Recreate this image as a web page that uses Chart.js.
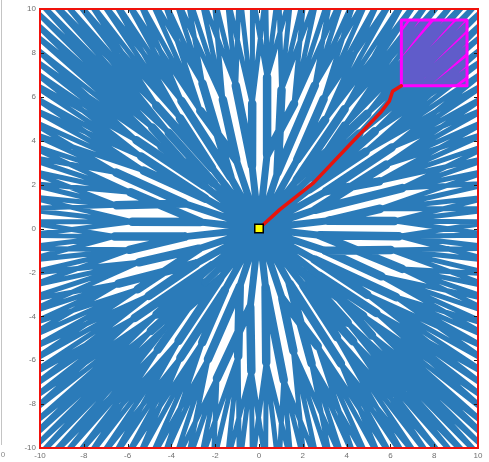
<!DOCTYPE html>
<html>
<head>
<meta charset="utf-8">
<script src="https://cdn.jsdelivr.net/npm/chart.js@4"></script>
<style>
  html, body { margin: 0; padding: 0; background: #ffffff; }
  #wrap { width: 489px; height: 462px; }
</style>
</head>
<body>
<div id="wrap"><canvas id="c" width="489" height="462"></canvas></div>
<script>
// ---- tree data (workspace coordinates) ----
const startPoint = [0, 0];

// first-level nodes grown from the start point
const trunkX = [3.18, 2.56, 3.06, 2.29, 2.33, 1.72, 1.75, 0.85, 0.37, -0.32, -1.04, -1.31,
                -2.15, -2.05, -2.52, -2.45, -3.41, -2.68, -3.38, -2.75, -2.88, -2.13, -2.47, -1.78,
                -1.56, -0.88, -0.40, 0.30, 1.07, 1.41, 2.03, 1.91, 2.76, 2.53, 3.03, 2.78];
const trunkY = [0.35, 0.85, 1.70, 1.78, 2.33, 2.21, 3.15, 2.56, 3.38, 2.88, 3.13, 2.36,
                2.76, 2.05, 1.96, 1.36, 1.14, 0.30, -0.37, -0.92, -1.60, -1.66, -2.47, -2.29,
                -2.80, -2.65, -3.58, -2.68, -3.22, -2.53, -2.60, -1.91, -2.15, -1.41, -1.01, -0.31];

// second-level nodes and the first-level node each one hangs from
const branchX = [6.19, 5.53, 6.54, 5.49, 5.81, 6.06, 4.87, 5.29, 4.58, 4.95, 3.91, 3.91,
                 3.02, 2.95, 2.55, 1.60, 1.03, 0.37, -0.31, -1.06, -1.65, -2.58, -2.68, -3.54,
                 -3.61, -4.69, -4.12, -4.87, -4.45, -5.60, -5.38, -5.27, -6.52, -5.87, -6.51, -5.79,
                 -6.59, -5.92, -5.48, -6.42, -5.54, -5.04, -5.68, -4.68, -4.94, -4.12, -4.62, -3.67,
                 -3.59, -2.59, -2.33, -1.92, -0.95, -0.35, 0.33, 1.13, 1.57, 2.40, 2.68, 3.74,
                 3.56, 4.30, 4.05, 5.16, 4.76, 5.36, 4.95, 6.26, 5.59, 6.54, 6.02, 6.39];
const branchY = [0.34, 0.90, 1.84, 2.15, 2.91, 3.69, 3.50, 4.43, 4.33, 5.23, 4.68, 5.44,
                 4.95, 5.90, 6.52, 5.68, 6.32, 6.89, 5.69, 6.51, 5.87, 6.61, 5.36, 5.81,
                 5.03, 5.60, 4.36, 4.60, 3.72, 4.02, 3.28, 2.64, 2.55, 1.65, 1.06, 0.31,
                 -0.36, -0.97, -1.54, -2.51, -2.77, -3.07, -4.08, -3.92, -4.67, -4.36, -5.52, -5.12,
                 -5.89, -5.19, -5.96, -6.83, -5.82, -6.49, -6.09, -6.91, -5.58, -6.14, -5.36, -6.15,
                 -4.95, -5.14, -4.29, -4.88, -3.98, -3.85, -3.02, -3.13, -2.18, -1.84, -0.98, -0.35];
const branchParent = [0, 0, 1, 2, 1, 2, 3, 3, 4, 5, 4, 5, 6, 6, 7, 8, 7, 8,
                      9, 9, 10, 11, 10, 11, 12, 12, 13, 14, 13, 14, 15, 15, 16, 17, 16, 17,
                      18, 18, 19, 20, 19, 20, 21, 21, 22, 23, 22, 23, 24, 24, 25, 26, 25, 26,
                      27, 27, 28, 29, 28, 29, 30, 30, 31, 32, 31, 32, 33, 33, 34, 35, 34, 35];

// outermost tips, listed per second-level node (they run past the workspace edge)
const twigTips = [
  [[11, -0.35], [11, 0.3], [11, 0.9], [11, 1.55]],   [[11, 0.9], [11, 1.5], [11, 2.15], [11, 2.8]],
  [[11, 2.1], [11, 2.75], [11, 3.35], [11, 4.0]],    [[11, 3.35], [11, 4.0], [11, 4.6], [11, 5.2]],
  [[11, 4.55], [11, 5.2], [11, 5.8], [11, 6.45]],    [[11, 5.75], [11, 6.4], [11, 7.0], [11, 7.7]],
  [[11, 7.0], [11, 7.65], [11, 8.25], [11, 8.9]],    [[11, 8.2], [11, 8.85], [11, 9.5], [11, 10.1]],
  [[11, 9.45], [11, 10.1], [11, 10.7], [10.65, 11]], [[11, 10.65], [10.7, 11], [10.1, 11], [9.45, 11]],
  [[10.1, 11], [9.5, 11], [8.85, 11], [8.2, 11]],    [[8.9, 11], [8.25, 11], [7.65, 11], [7.0, 11]],
  [[7.7, 11], [7.0, 11], [6.4, 11], [5.75, 11]],     [[6.45, 11], [5.8, 11], [5.2, 11], [4.55, 11]],
  [[5.2, 11], [4.6, 11], [4.0, 11], [3.35, 11]],     [[4.0, 11], [3.35, 11], [2.75, 11], [2.1, 11]],
  [[2.8, 11], [2.15, 11], [1.5, 11], [0.9, 11]],     [[1.55, 11], [0.9, 11], [0.3, 11], [-0.35, 11]],
  [[0.35, 11], [-0.3, 11], [-0.9, 11], [-1.55, 11]], [[-0.9, 11], [-1.5, 11], [-2.15, 11], [-2.8, 11]],
  [[-2.1, 11], [-2.75, 11], [-3.35, 11], [-4.0, 11]], [[-3.35, 11], [-4.0, 11], [-4.6, 11], [-5.2, 11]],
  [[-4.55, 11], [-5.2, 11], [-5.8, 11], [-6.45, 11]], [[-5.75, 11], [-6.4, 11], [-7.0, 11], [-7.7, 11]],
  [[-7.0, 11], [-7.65, 11], [-8.25, 11], [-8.9, 11]], [[-8.2, 11], [-8.85, 11], [-9.5, 11], [-10.1, 11]],
  [[-9.45, 11], [-10.1, 11], [-10.7, 11], [-11, 10.65]], [[-10.65, 11], [-11, 10.7], [-11, 10.1], [-11, 9.45]],
  [[-11, 10.1], [-11, 9.5], [-11, 8.85], [-11, 8.2]], [[-11, 8.9], [-11, 8.25], [-11, 7.65], [-11, 7.0]],
  [[-11, 7.7], [-11, 7.0], [-11, 6.4], [-11, 5.75]],  [[-11, 6.45], [-11, 5.8], [-11, 5.2], [-11, 4.55]],
  [[-11, 5.2], [-11, 4.6], [-11, 4.0], [-11, 3.35]],  [[-11, 4.0], [-11, 3.35], [-11, 2.75], [-11, 2.1]],
  [[-11, 2.8], [-11, 2.15], [-11, 1.5], [-11, 0.9]],  [[-11, 1.55], [-11, 0.9], [-11, 0.3], [-11, -0.35]],
  [[-11, 0.35], [-11, -0.3], [-11, -0.9], [-11, -1.55]], [[-11, -0.9], [-11, -1.5], [-11, -2.15], [-11, -2.8]],
  [[-11, -2.1], [-11, -2.75], [-11, -3.35], [-11, -4.0]], [[-11, -3.35], [-11, -4.0], [-11, -4.6], [-11, -5.2]],
  [[-11, -4.55], [-11, -5.2], [-11, -5.8], [-11, -6.45]], [[-11, -5.75], [-11, -6.4], [-11, -7.0], [-11, -7.7]],
  [[-11, -7.0], [-11, -7.65], [-11, -8.25], [-11, -8.9]], [[-11, -8.2], [-11, -8.85], [-11, -9.5], [-11, -10.1]],
  [[-11, -9.45], [-11, -10.1], [-11, -10.7], [-10.65, -11]], [[-11, -10.65], [-10.7, -11], [-10.1, -11], [-9.45, -11]],
  [[-10.1, -11], [-9.5, -11], [-8.85, -11], [-8.2, -11]], [[-8.9, -11], [-8.25, -11], [-7.65, -11], [-7.0, -11]],
  [[-7.7, -11], [-7.0, -11], [-6.4, -11], [-5.75, -11]], [[-6.45, -11], [-5.8, -11], [-5.2, -11], [-4.55, -11]],
  [[-5.2, -11], [-4.6, -11], [-4.0, -11], [-3.35, -11]], [[-4.0, -11], [-3.35, -11], [-2.75, -11], [-2.1, -11]],
  [[-2.8, -11], [-2.15, -11], [-1.5, -11], [-0.9, -11]], [[-1.55, -11], [-0.9, -11], [-0.3, -11], [0.35, -11]],
  [[-0.35, -11], [0.3, -11], [0.9, -11], [1.55, -11]], [[0.9, -11], [1.5, -11], [2.15, -11], [2.8, -11]],
  [[2.1, -11], [2.75, -11], [3.35, -11], [4.0, -11]],  [[3.35, -11], [4.0, -11], [4.6, -11], [5.2, -11]],
  [[4.55, -11], [5.2, -11], [5.8, -11], [6.45, -11]],  [[5.75, -11], [6.4, -11], [7.0, -11], [7.7, -11]],
  [[7.0, -11], [7.65, -11], [8.25, -11], [8.9, -11]],  [[8.2, -11], [8.85, -11], [9.5, -11], [10.1, -11]],
  [[9.45, -11], [10.1, -11], [10.7, -11], [11, -10.65]], [[10.65, -11], [11, -10.7], [11, -10.1], [11, -9.45]],
  [[11, -10.1], [11, -9.5], [11, -8.85], [11, -8.2]],  [[11, -8.9], [11, -8.25], [11, -7.65], [11, -7.0]],
  [[11, -7.7], [11, -7.0], [11, -6.4], [11, -5.75]],   [[11, -6.45], [11, -5.8], [11, -5.2], [11, -4.55]],
  [[11, -5.2], [11, -4.6], [11, -4.0], [11, -3.35]],   [[11, -4.0], [11, -3.35], [11, -2.75], [11, -2.1]],
  [[11, -2.8], [11, -2.15], [11, -1.5], [11, -0.9]],   [[11, -1.55], [11, -0.9], [11, -0.3], [11, 0.35]]
];

// path found from the start point to the goal region
const pathX = [0, 0.96, 2.49, 4.01, 5.54, 5.95, 6.10, 6.50];
const pathY = [0, 0.87, 2.08, 3.68, 5.27, 5.80, 6.25, 6.50];

// goal region: [xMin, xMax, yMin, yMax]
const goalRegion = [6.5, 9.5, 6.5, 9.5];

// axis ticks
const tickValues = [-10, -8, -6, -4, -2, 0, 2, 4, 6, 8, 10];

// ---- build line segments, separated by gaps ----
const GAP = { x: null, y: null };
const trunkEdges = [], branchEdges = [], twigEdges = [];
trunkX.forEach((x, i) => {
  trunkEdges.push({ x: startPoint[0], y: startPoint[1] }, { x, y: trunkY[i] }, GAP);
});
branchX.forEach((x, i) => {
  const p = branchParent[i];
  branchEdges.push({ x: trunkX[p], y: trunkY[p] }, { x, y: branchY[i] }, GAP);
});
twigTips.forEach((tips, i) => {
  tips.forEach(([tx, ty]) => {
    twigEdges.push({ x: branchX[i], y: branchY[i] }, { x: tx, y: ty }, GAP);
  });
});

const [gx0, gx1, gy0, gy1] = goalRegion;
const goalTop = [{ x: gx0, y: gy1 }, { x: gx1, y: gy1 }];
const goalOutline = [
  { x: gx0, y: gy0 }, { x: gx1, y: gy0 }, { x: gx1, y: gy1 },
  { x: gx0, y: gy1 }, { x: gx0, y: gy0 }
];
const pathPoints = pathX.map((x, i) => ({ x, y: pathY[i] }));

const TREE_BLUE = '#2b7bb9';

// frame, inward tick marks and the neighbouring panel edge
const framePlugin = {
  id: 'frame',
  beforeDraw(chart) {
    const { ctx, chartArea: a } = chart;
    ctx.save();
    ctx.fillStyle = '#ffffff';
    ctx.fillRect(0, 0, chart.width, chart.height);
    ctx.strokeStyle = '#c4c4c4';
    ctx.lineWidth = 1;
    ctx.beginPath();
    ctx.moveTo(1.5, 0);
    ctx.lineTo(1.5, a.bottom - 3);
    ctx.stroke();
    ctx.fillStyle = '#8a8a8a';
    ctx.font = '8px "Liberation Sans", Arial, sans-serif';
    ctx.textAlign = 'center';
    ctx.textBaseline = 'middle';
    ctx.fillText('0', 3, a.bottom + 7);
    ctx.restore();
  },
  afterDatasetsDraw(chart) {
    const { ctx, chartArea: a, scales } = chart;
    const xs = scales.x, ys = scales.y;
    ctx.save();
    ctx.strokeStyle = '#1a1a1a';
    ctx.lineWidth = 1;
    ctx.beginPath();
    xs.ticks.forEach(t => {
      const px = Math.round(xs.getPixelForValue(t.value)) + 0.5;
      ctx.moveTo(px, a.bottom); ctx.lineTo(px, a.bottom - 4);
      ctx.moveTo(px, a.top); ctx.lineTo(px, a.top + 4);
    });
    ys.ticks.forEach(t => {
      const py = Math.round(ys.getPixelForValue(t.value)) + 0.5;
      ctx.moveTo(a.left, py); ctx.lineTo(a.left + 4, py);
      ctx.moveTo(a.right, py); ctx.lineTo(a.right - 4, py);
    });
    ctx.stroke();
    ctx.strokeStyle = '#f0120c';
    ctx.lineWidth = 2;
    ctx.strokeRect(a.left, a.top, a.right - a.left, a.bottom - a.top);
    ctx.restore();
  }
};

const tickFont = { family: '"Liberation Sans", Arial, sans-serif', size: 8 };
const edgeStyle = { borderColor: TREE_BLUE, borderCapStyle: 'round', pointRadius: 0, fill: false, spanGaps: false };

new Chart(document.getElementById('c'), {
  type: 'line',
  data: {
    datasets: [
      { // goal region underlay
        data: goalTop, order: 10, borderWidth: 0, pointRadius: 0,
        fill: { value: gy0 }, backgroundColor: '#ff00ff', borderColor: 'rgba(0,0,0,0)'
      },
      Object.assign({ data: twigEdges, order: 7, borderWidth: 5 }, edgeStyle),
      Object.assign({ data: branchEdges, order: 6, borderWidth: 8.5 }, edgeStyle),
      Object.assign({ data: trunkEdges, order: 5, borderWidth: 7 }, edgeStyle),
      { // goal region tint over the tree
        data: goalTop, order: 3, borderWidth: 0, pointRadius: 0,
        fill: { value: gy0 }, backgroundColor: 'rgba(255,0,255,0.25)', borderColor: 'rgba(0,0,0,0)'
      },
      { // goal region outline
        data: goalOutline, order: 2, borderColor: '#ff00ff', borderWidth: 3,
        pointRadius: 0, fill: false, borderJoinStyle: 'round'
      },
      { // path
        data: pathPoints, order: 1, borderColor: '#e8140c', borderWidth: 3.5,
        pointRadius: 0, fill: false, tension: 0, borderCapStyle: 'round', borderJoinStyle: 'round'
      },
      { // start point
        data: [{ x: startPoint[0], y: startPoint[1] }], order: 0, showLine: false,
        pointStyle: 'rect', pointRadius: 6, pointBackgroundColor: '#ffff00',
        pointBorderColor: '#000000', pointBorderWidth: 1.5
      }
    ]
  },
  options: {
    responsive: false,
    animation: false,
    devicePixelRatio: 1,
    layout: { padding: { left: 0, right: 11, top: 9, bottom: 0 } },
    plugins: { legend: { display: false }, tooltip: { enabled: false } },
    events: [],
    scales: {
      x: {
        type: 'linear', min: -10, max: 10,
        afterBuildTicks: s => { s.ticks = tickValues.map(v => ({ value: v })); },
        afterFit: s => { s.height = 14; },
        grid: { display: false, drawTicks: false },
        border: { display: false },
        ticks: { font: tickFont, color: '#707070', padding: 3, maxRotation: 0, autoSkip: false }
      },
      y: {
        type: 'linear', min: -10, max: 10,
        afterBuildTicks: s => { s.ticks = tickValues.map(v => ({ value: v })); },
        afterFit: s => { s.width = 40; },
        grid: { display: false, drawTicks: false },
        border: { display: false },
        ticks: { font: tickFont, color: '#707070', padding: 4, autoSkip: false }
      }
    }
  },
  plugins: [framePlugin]
});
</script>
</body>
</html>
